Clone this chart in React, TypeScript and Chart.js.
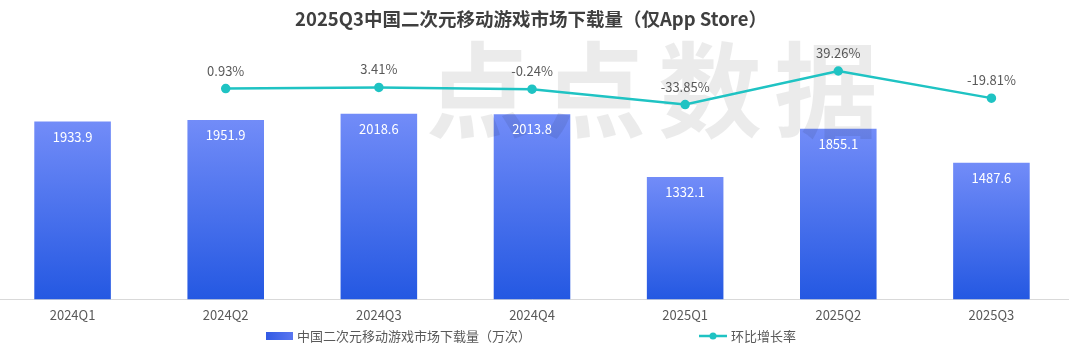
import React, { useEffect, useRef } from "react";
import { Chart, registerables } from "chart.js";

Chart.register(...registerables);

const categories = ["2024Q1", "2024Q2", "2024Q3", "2024Q4", "2025Q1", "2025Q2", "2025Q3"];
const downloads = [1933.9, 1951.9, 2018.6, 2013.8, 1332.1, 1855.1, 1487.6];
const qoqGrowth: (number | null)[] = [null, 0.93, 3.41, -0.24, -33.85, 39.26, -19.81];

const titleText = "2025Q3中国二次元移动游戏市场下载量（仅App Store）";
const barLabel = "中国二次元移动游戏市场下载量（万次）";
const lineLabel = "环比增长率";
const watermarkText = "点点数据";

const FONT = '"Noto Sans CJK SC", "Noto Sans", sans-serif';
const OFFSET_X = 10; // canvas shifted left by this much
const TEXT_GRAY = "#595959";
const LINE_COLOR = "#1fc3c3";

function barGradient(ctx: CanvasRenderingContext2D, top: number, bottom: number) {
  const g = ctx.createLinearGradient(0, top, 0, bottom);
  g.addColorStop(0, "rgb(114,140,248)");
  g.addColorStop(1, "rgb(36,88,226)");
  return g;
}

const decorPlugin = {
  id: "decor",
  afterDatasetDraw(chart: any, args: any) {
    if (args.index !== 0) return;
    const ctx = chart.ctx;
    ctx.save();
    ctx.font = `bold 104px ${FONT}`;
    try { (ctx as any).letterSpacing = "12px"; } catch (e) {}
    ctx.fillStyle = "rgba(0,0,0,0.08)";
    ctx.textAlign = "center";
    ctx.textBaseline = "middle";
    ctx.fillText(watermarkText, 658 + OFFSET_X, 90);
    ctx.restore();
  },
  afterDraw(chart: any) {
    const ctx = chart.ctx;
    ctx.save();
    // title
    ctx.font = `bold 18.5px ${FONT}`;
    ctx.fillStyle = "#3f3f3f";
    ctx.textAlign = "center";
    ctx.textBaseline = "middle";
    ctx.fillText(titleText, 531 + OFFSET_X, 19);

    // bar value labels
    ctx.font = `13px ${FONT}`;
    ctx.fillStyle = "#ffffff";
    const barMeta = chart.getDatasetMeta(0);
    barMeta.data.forEach((el: any, i: number) => {
      ctx.fillText(downloads[i].toFixed(1), el.x, el.y + 15);
    });

    // line labels
    ctx.fillStyle = TEXT_GRAY;
    const lineMeta = chart.getDatasetMeta(1);
    lineMeta.data.forEach((el: any, i: number) => {
      const v = qoqGrowth[i];
      if (v === null || el.skip) return;
      ctx.fillText(v.toFixed(2) + "%", el.x, el.y - 18);
    });

    // legend
    ctx.font = `13px ${FONT}`;
    ctx.textAlign = "left";
    const w1 = ctx.measureText(barLabel).width;
    const w2 = ctx.measureText(lineLabel).width;
    const box = 27;
    const gap = 168;
    const total = box + 4 + w1 + gap + 28 + 4 + w2;
    let x = 531 + OFFSET_X - total / 2;
    const ly = 336;
    const lg = ctx.createLinearGradient(x, 0, x + box, 0);
    lg.addColorStop(0, "rgb(50,90,228)");
    lg.addColorStop(1, "rgb(90,118,240)");
    ctx.fillStyle = lg;
    ctx.fillRect(x, ly - 4, box, 8);
    ctx.fillStyle = TEXT_GRAY;
    ctx.fillText(barLabel, x + box + 4, ly);
    x += box + 4 + w1 + gap;
    ctx.strokeStyle = LINE_COLOR;
    ctx.lineWidth = 2.5;
    ctx.beginPath();
    ctx.moveTo(x, ly);
    ctx.lineTo(x + 28, ly);
    ctx.stroke();
    ctx.fillStyle = LINE_COLOR;
    ctx.beginPath();
    ctx.arc(x + 14, ly, 3.5, 0, Math.PI * 2);
    ctx.fill();
    ctx.fillStyle = TEXT_GRAY;
    ctx.fillText(lineLabel, x + 32, ly);
    ctx.restore();
  },
};

export default function App() {
  const ref = useRef<HTMLCanvasElement | null>(null);

  useEffect(() => {
    if (!ref.current) return;
    const chart = new Chart(ref.current, {
      type: "bar",
      data: {
        labels: categories,
        datasets: [
          {
            type: "bar",
            label: barLabel,
            data: downloads,
            yAxisID: "y",
            order: 2,
            barPercentage: 0.5,
            categoryPercentage: 1,
            backgroundColor: (c: any) => {
              const chart = c.chart;
              const area = chart.chartArea;
              if (!area || c.raw === undefined) return "rgb(80,110,235)";
              const top = chart.scales.y.getPixelForValue(c.raw);
              return barGradient(chart.ctx, top, area.bottom);
            },
            borderWidth: 0,
          },
          {
            type: "line",
            label: lineLabel,
            data: qoqGrowth,
            yAxisID: "y1",
            order: 1,
            borderColor: LINE_COLOR,
            backgroundColor: LINE_COLOR,
            borderWidth: 2.5,
            pointRadius: 3.5,
            pointHoverRadius: 3.5,
            tension: 0,
            spanGaps: false,
          } as any,
        ],
      },
      options: {
        animation: false,
        responsive: false,
        maintainAspectRatio: false,
        layout: { padding: { top: 42, bottom: 22, left: 0, right: 12 } },
        plugins: {
          legend: { display: false },
          title: { display: false },
          tooltip: { enabled: false },
        },
        scales: {
          x: {
            grid: { display: false, drawTicks: false },
            border: { display: true, color: "#d9d9d9", width: 1 },
            ticks: {
              color: TEXT_GRAY,
              font: { family: FONT, size: 13 },
              padding: 8,
              maxRotation: 0,
            },
          },
          y: {
            display: false,
            min: 0,
            max: 2800,
          },
          y1: {
            display: false,
            position: "right",
            min: -458,
            max: 102.4,
          },
        },
      },
      plugins: [decorPlugin],
    });
    return () => chart.destroy();
  }, []);

  return (
    <div style={{ position: "absolute", left: -OFFSET_X, top: 0, width: 1080 + OFFSET_X, height: 353, background: "#fff" }}>
      <canvas ref={ref} width={1080 + OFFSET_X} height={353} style={{ display: "block" }} />
    </div>
  );
}
